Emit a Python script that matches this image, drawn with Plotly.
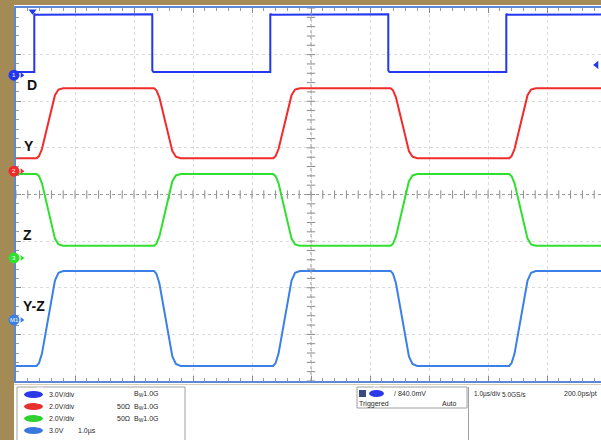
import numpy as np
import plotly.graph_objects as go

# ---------------- data (time in microseconds, 1 us/div, trigger at centre) ----------------
# C1 "D" input (volts)
D_t = [-5.0, -4.69, -4.69, -4.67, -2.69, -2.69, -2.67, -0.69, -0.69, -0.67,
       1.31, 1.31, 1.33, 3.31, 3.31, 3.33, 4.95]
D_v = [0.2, 0.2, 3.95, 3.88, 3.92, 0.3, 0.2, 0.2, 3.95, 3.88,
       3.92, 0.3, 0.2, 0.2, 3.95, 3.88, 3.9]

# edge start times of the analog outputs (us)
OUT_EDGES = [-4.65, -2.66, -0.64, 1.35, 3.36]
Y_LOW, Y_HIGH = 0.56, 3.56       # C2 "Y" (V)
Z_LOW, Z_HIGH = 0.52, 3.60       # C3 "Z" (V)
YZ_LOW, YZ_HIGH = -2.96, 3.15    # M1 "Y-Z" (V)

# per-edge shape (time offset us, fraction of swing)
EDGE_DT = [0.0, 0.04, 0.09, 0.31, 0.37, 0.45]
EDGE_F = [0.0, 0.03, 0.13, 0.90, 0.98, 1.0]

# channel settings: V/div and ground position (div)
CH = {
    "D":   dict(scale=3.0, offset=2.56, color="#2336f0", num="1"),
    "Y":   dict(scale=2.0, offset=0.50, color="#f22a2a", num="2"),
    "Z":   dict(scale=2.0, offset=-1.36, color="#2fe02f", num="3"),
    "Y-Z": dict(scale=3.0, offset=-2.69, color="#3a80e6", num="M1"),
}

PANEL_ROWS = [
    ("C1", "#2a3ae8", "3.0V/div", "", "B<sub>W</sub>1.0G"),
    ("C2", "#e83030", "2.0V/div", "50Ω", "B<sub>W</sub>1.0G"),
    ("C3", "#30d030", "2.0V/div", "50Ω", "B<sub>W</sub>1.0G"),
    ("M1", "#3a78e0", "3.0V", "1.0µs", ""),
]


def trapezoid(edges, lo, hi, start_high):
    t = [-5.0]
    v = [hi if start_high else lo]
    level = start_high
    for e in edges:
        a = hi if level else lo
        b = lo if level else hi
        for dt, f in zip(EDGE_DT, EDGE_F):
            t.append(e + dt)
            v.append(a + f * (b - a))
        level = not level
    t.append(4.95)
    v.append(hi if level else lo)
    return t, v


Y_t, Y_v = trapezoid(OUT_EDGES, Y_LOW, Y_HIGH, False)
Z_t, Z_v = trapezoid(OUT_EDGES, Z_LOW, Z_HIGH, True)
YZ_t, YZ_v = trapezoid(OUT_EDGES, YZ_LOW, YZ_HIGH, False)

series = {"D": (D_t, D_v), "Y": (Y_t, Y_v), "Z": (Z_t, Z_v), "Y-Z": (YZ_t, YZ_v)}

# ---------------- layout geometry ----------------
W, H = 601, 440
L, T, R_PX, B_PX = 16, 8, 601, 381
XR = [-5.0, -5.0 + (R_PX - L) / 59.0]


def px(x):
    return (x - L) / (R_PX - L)


def py(y):
    return (B_PX - y) / (B_PX - T)


fig = go.Figure()

# centre cross tick marks
tx = np.round(np.arange(-5.0, 5.01, 0.2), 2)
ty = np.round(np.arange(-4.0, 4.01, 0.2), 2)
fig.add_trace(go.Scatter(x=tx, y=[0] * len(tx), mode="markers", hoverinfo="skip",
                         marker=dict(symbol="line-ns", size=6, line=dict(width=1, color="#8a8a8a"))))
fig.add_trace(go.Scatter(x=[0] * len(ty), y=ty, mode="markers", hoverinfo="skip",
                         marker=dict(symbol="line-ew", size=6, line=dict(width=1, color="#8a8a8a"))))

order = ["Y-Z", "Z", "Y", "D"]
for name in order:
    c = CH[name]
    t, v = series[name]
    dv = [c["offset"] + val / c["scale"] for val in v]
    fig.add_trace(go.Scatter(x=t, y=dv, mode="lines", line=dict(color=c["color"], width=2),
                             name=name, hoverinfo="skip"))

shapes = []
annotations = []

# channel ground markers (circle + small arrow)
for name in ["D", "Y", "Z", "Y-Z"]:
    c = CH[name]
    fig.add_trace(go.Scatter(x=[-4.90], y=[c["offset"]], mode="markers", cliponaxis=False,
                             hoverinfo="skip",
                             marker=dict(symbol="triangle-right", size=5, color=c["color"])))
    cy = py(B_PX - (c["offset"] + 4) / 8 * (B_PX - T))
    shapes.append(dict(type="circle", xref="paper", yref="paper", xsizemode="pixel", ysizemode="pixel",
                       xanchor=px(14), yanchor=cy, x0=-5.5, x1=5.5, y0=-5.5, y1=5.5,
                       fillcolor=c["color"], line=dict(width=0), layer="above"))
    annotations.append(dict(text=c["num"], x=px(14), y=cy, xref="paper", yref="paper", showarrow=False,
                            xanchor="center", yanchor="middle",
                            font=dict(size=6, color="white", family="Liberation Sans")))

# trigger position + level markers
fig.add_trace(go.Scatter(x=[-4.72], y=[3.93], mode="markers", cliponaxis=False, hoverinfo="skip",
                         marker=dict(symbol="triangle-down", size=7, color=CH["D"]["color"])))
fig.add_trace(go.Scatter(x=[4.84], y=[2.78], mode="markers", cliponaxis=False, hoverinfo="skip",
                         marker=dict(symbol="triangle-left", size=7, color=CH["D"]["color"])))

# frame strips
shapes.append(dict(type="rect", xref="paper", yref="paper", x0=px(0), x1=px(14), y0=py(440), y1=py(0),
                   fillcolor="#a48b55", line=dict(width=0), layer="below"))
shapes.append(dict(type="rect", xref="paper", yref="paper", x0=px(0), x1=px(601), y0=py(5), y1=py(0),
                   fillcolor="#a48b55", line=dict(width=0), layer="below"))
# centre lines
shapes.append(dict(type="line", x0=0, x1=0, y0=-4, y1=4, line=dict(color="#9a9a9a", width=1, dash="dot")))
shapes.append(dict(type="line", x0=-5, x1=5, y0=0, y1=0, line=dict(color="#9a9a9a", width=1, dash="dot")))
# info panel
shapes.append(dict(type="line", xref="paper", yref="paper", x0=px(14), x1=px(601), y0=py(384.5), y1=py(384.5),
                   line=dict(color="#d8cfb4", width=1)))
shapes.append(dict(type="rect", xref="paper", yref="paper", x0=px(17), x1=px(185), y0=py(442), y1=py(387),
                   line=dict(color="#a0a0a0", width=1), fillcolor="white"))
shapes.append(dict(type="rect", xref="paper", yref="paper", x0=px(357), x1=px(467), y0=py(408), y1=py(387),
                   line=dict(color="#a0a0a0", width=1), fillcolor="white"))
shapes.append(dict(type="line", xref="paper", yref="paper", x0=px(468.5), x1=px(468.5), y0=py(440), y1=py(387),
                   line=dict(color="#a0a0a0", width=1)))

# trace labels
for txt, x, y in [("D", 32, 85), ("Y", 29, 146), ("Z", 27, 235), ("Y-Z", 34, 306)]:
    annotations.append(dict(text="<b>%s</b>" % txt, x=px(x), y=py(y), xref="paper", yref="paper",
                            showarrow=False, xanchor="center", yanchor="middle",
                            font=dict(size=14, color="#111", family="Liberation Sans")))

FAM = "Liberation Sans Narrow, Liberation Sans, Arial"
rows_y = [394.5, 406.5, 418.5, 430.5]
small = dict(size=7, color="#2a2a2a", family=FAM)
tiny = dict(size=6.5, color="#2a2a2a", family=FAM)
for (badge, col, a, b, c), ry in zip(PANEL_ROWS, rows_y):
    shapes.append(dict(type="circle", xref="paper", yref="paper", x0=px(24), x1=px(43),
                       y0=py(ry + 3.5), y1=py(ry - 3.5), fillcolor=col, line=dict(width=0)))
    annotations.append(dict(text=badge, x=px(33.5), y=py(ry), xref="paper", yref="paper", showarrow=False,
                            font=dict(size=6, color="white", family="Liberation Sans")))
    annotations.append(dict(text=a, x=px(47), y=py(ry), xref="paper", yref="paper", showarrow=False,
                            xanchor="left", yanchor="middle", font=small))
    if badge == "M1":
        annotations.append(dict(text=b, x=px(76), y=py(ry), xref="paper", yref="paper", showarrow=False,
                                xanchor="left", yanchor="middle", font=small))
    else:
        if b:
            annotations.append(dict(text=b, x=px(115), y=py(ry), xref="paper", yref="paper", showarrow=False,
                                    xanchor="left", yanchor="middle", font=small))
        annotations.append(dict(text=c, x=px(132), y=py(ry), xref="paper", yref="paper", showarrow=False,
                                xanchor="left", yanchor="middle", font=small))

# trigger box
shapes.append(dict(type="rect", xref="paper", yref="paper", x0=px(359), x1=px(366), y0=py(397), y1=py(390),
                   fillcolor="#3a4a80", line=dict(width=0)))
shapes.append(dict(type="circle", xref="paper", yref="paper", x0=px(369), x1=px(384), y0=py(397), y1=py(390),
                   fillcolor="#2a3ae8", line=dict(width=0)))
annotations.append(dict(text="C1", x=px(376.5), y=py(393.5), xref="paper", yref="paper", showarrow=False,
                        font=dict(size=6, color="white", family="Liberation Sans")))
for txt, x, y, f in [("/ 840.0mV", 392, 393.5, small), ("Triggered", 357, 403.5, small),
                     ("Auto", 440, 403.5, small), ("1.0µs/div", 472, 394, tiny),
                     ("5.0GS/s", 500, 394, tiny), ("200.0ps/pt", 562, 394, small)]:
    annotations.append(dict(text=txt, x=px(x), y=py(y), xref="paper", yref="paper", showarrow=False,
                            xanchor="left", yanchor="middle", font=f))

fig.update_layout(
    width=W, height=H,
    margin=dict(l=L, r=W - R_PX, t=T, b=H - B_PX),
    paper_bgcolor="white", plot_bgcolor="white",
    showlegend=False, hovermode=False,
    shapes=shapes, annotations=annotations,
    xaxis=dict(range=XR, dtick=1, showticklabels=False, zeroline=False,
               showgrid=True, gridcolor="#dadada", griddash="dot", gridwidth=1,
               showline=True, linecolor="#5d88d8", linewidth=2, mirror="ticks",
               ticks="inside", ticklen=5, tickcolor="#8a8a8a",
               minor=dict(dtick=0.2, ticks="inside", ticklen=3, tickcolor="#9a9a9a", showgrid=False)),
    yaxis=dict(range=[-4, 4], dtick=1, showticklabels=False, zeroline=False,
               showgrid=True, gridcolor="#dadada", griddash="dot", gridwidth=1,
               showline=True, linecolor="#5d88d8", linewidth=2,
               ticks="inside", ticklen=5, tickcolor="#8a8a8a",
               minor=dict(dtick=0.2, ticks="inside", ticklen=3, tickcolor="#9a9a9a", showgrid=False)),
)

fig.write_html("out.html", config={"displayModeBar": False, "staticPlot": True},
               post_script="document.body.style.margin='0';document.body.style.overflow='hidden';")
